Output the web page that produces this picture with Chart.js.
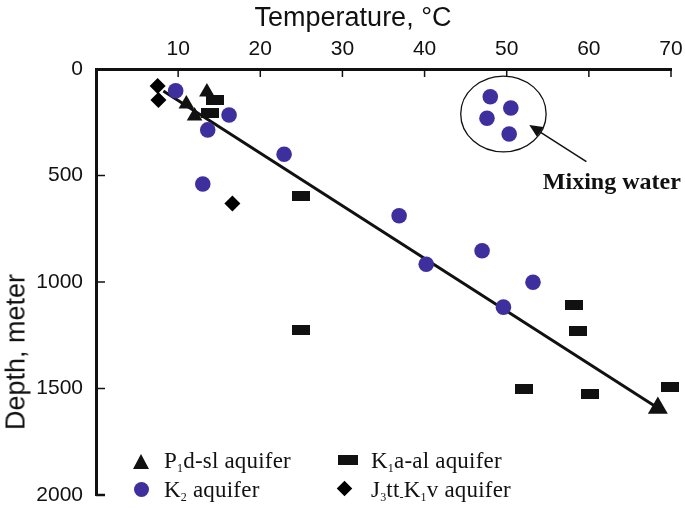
<!DOCTYPE html>
<html><head><meta charset="utf-8">
<script src="https://cdn.jsdelivr.net/npm/chart.js@4/dist/chart.umd.min.js"></script>
<style>
html,body{margin:0;padding:0;background:#fff;}
#wrap{position:relative;width:685px;height:508px;overflow:hidden;}
#c{position:absolute;left:0;top:0;}
.ttl{position:absolute;font-family:"Liberation Sans",Arial,sans-serif;font-size:27px;color:#111;white-space:nowrap;line-height:1;}
.lg{position:absolute;font-family:"Liberation Serif","DejaVu Serif",serif;font-size:23px;letter-spacing:0.2px;color:#111;white-space:nowrap;line-height:1;}
.lg sub{font-size:12px;vertical-align:baseline;position:relative;top:4px;}
.mk{position:absolute;}
</style></head>
<body><div id="wrap">
<canvas id="c" width="685" height="508"></canvas>
<div class="ttl" style="left:353px;top:4px;transform:translateX(-50%);">Temperature, °C</div>
<div class="ttl" style="left:16px;top:352px;transform:translate(-50%,-50%) rotate(-90deg);">Depth, meter</div>
<div class="mk" style="left:133px;top:454px;width:0;height:0;border-left:8.5px solid transparent;border-right:8.5px solid transparent;border-bottom:15px solid #111;"></div>
<div class="lg" style="left:164px;top:449px;">P<sub>1</sub>d-sl aquifer</div>
<div class="mk" style="left:134px;top:482px;width:15px;height:15px;border-radius:50%;background:#3e2f9e;"></div>
<div class="lg" style="left:164px;top:478px;">K<sub>2</sub> aquifer</div>
<div class="mk" style="left:338px;top:455px;width:20px;height:10px;background:#111;"></div>
<div class="lg" style="left:371px;top:449px;">K<sub>1</sub>a-al aquifer</div>
<div class="mk" style="left:339px;top:483px;width:11px;height:11px;background:#000;transform:rotate(45deg);"></div>
<div class="lg" style="left:371px;top:478px;">J<sub>3</sub>tt<sub>-</sub>K<sub>1</sub>v aquifer</div>
</div>
<script>
// ---- data ----
const tempTicks = [0, 10, 20, 30, 40, 50, 60, 70];
const depthTicks = [0, 500, 1000, 1500, 2000];

const p1dslTemp  = [13.5, 11.0, 12.0, 68.4];
const p1dslDepth = [108, 164, 221, 1592];

const k2Temp  = [9.7, 16.2, 13.6, 22.9, 13.0, 36.9, 47.0, 40.2, 49.6, 53.2, 48.0, 50.5, 47.6, 50.3];
const k2Depth = [102, 216, 286, 400, 540, 689, 853, 917, 1118, 1001, 130, 183, 231, 305];

const k1aalTemp  = [14.5, 13.9, 25.0, 24.9, 58.2, 58.7, 52.1, 60.1, 69.9];
const k1aalDepth = [146, 208, 595, 1227, 1110, 1232, 1504, 1526, 1493];

const j3Temp  = [7.5, 7.6, 16.6];
const j3Depth = [80, 145, 631];

const trendTemp  = [8.2, 68.4];
const trendDepth = [103, 1592];

// mixing-water annotation (data units)
const mixCenter = [49.6, 211];
const mixRadius = [5.2, 178];
const mixArrowFrom = [59.7, 435];
const mixArrowTo = [52.75, 263];
const mixLabelAt = [62.8, 535];
const mixLabel = 'Mixing water';

// ---- build ----
const pts = (xs, ys) => xs.map((v, i) => ({x: v, y: ys[i]}));

const rectImg = document.createElement('canvas');
rectImg.width = 18; rectImg.height = 10;
(function(){const g = rectImg.getContext('2d'); g.fillStyle = '#111'; g.fillRect(0,0,18,10);})();

const inwardTicks = {
  id: 'inwardTicks',
  afterDraw(chart) {
    const {ctx, chartArea: a, scales: {x, y}} = chart;
    ctx.save();
    ctx.strokeStyle = '#111';
    ctx.lineWidth = 1.5;
    tempTicks.filter(v => v > 0).forEach(v => {
      const px = x.getPixelForValue(v);
      ctx.beginPath(); ctx.moveTo(px, a.top); ctx.lineTo(px, a.top + 8); ctx.stroke();
    });
    depthTicks.filter(v => v > 0).forEach(v => {
      const py = y.getPixelForValue(v);
      ctx.lineWidth = v === 2000 ? 2.5 : 1.5;
      ctx.beginPath(); ctx.moveTo(a.left, py); ctx.lineTo(a.left + 9, py); ctx.stroke();
    });
    ctx.restore();
  }
};

const mixing = {
  id: 'mixing',
  afterDatasetsDraw(chart) {
    const {ctx, scales: {x, y}} = chart;
    ctx.save();
    const cx = x.getPixelForValue(mixCenter[0]);
    const cy = y.getPixelForValue(mixCenter[1]);
    const rx = Math.abs(x.getPixelForValue(mixCenter[0] + mixRadius[0]) - cx);
    const ry = Math.abs(y.getPixelForValue(mixCenter[1] + mixRadius[1]) - cy);
    ctx.strokeStyle = '#111';
    ctx.lineWidth = 1.3;
    ctx.beginPath(); ctx.ellipse(cx, cy, rx, ry, 0, 0, Math.PI * 2); ctx.stroke();
    const x1 = x.getPixelForValue(mixArrowFrom[0]), y1 = y.getPixelForValue(mixArrowFrom[1]);
    const x2 = x.getPixelForValue(mixArrowTo[0]), y2 = y.getPixelForValue(mixArrowTo[1]);
    const ang = Math.atan2(y2 - y1, x2 - x1);
    const hl = 13, hw = 6;
    const bx = x2 - hl * Math.cos(ang), by = y2 - hl * Math.sin(ang);
    ctx.lineWidth = 1.5;
    ctx.beginPath(); ctx.moveTo(x1, y1); ctx.lineTo(bx, by); ctx.stroke();
    ctx.fillStyle = '#111';
    ctx.beginPath();
    ctx.moveTo(x2, y2);
    ctx.lineTo(bx + hw * Math.sin(ang), by - hw * Math.cos(ang));
    ctx.lineTo(bx - hw * Math.sin(ang), by + hw * Math.cos(ang));
    ctx.closePath(); ctx.fill();
    ctx.font = 'bold 24px "Liberation Serif", "DejaVu Serif", serif';
    ctx.textAlign = 'center'; ctx.textBaseline = 'middle';
    ctx.fillText(mixLabel, x.getPixelForValue(mixLabelAt[0]), y.getPixelForValue(mixLabelAt[1]));
    ctx.restore();
  }
};

new Chart(document.getElementById('c'), {
  type: 'scatter',
  data: {
    datasets: [
      {label: 'trend', data: pts(trendTemp, trendDepth), showLine: true, borderColor: '#111', borderWidth: 3, pointRadius: 0, order: 10, clip: false},
      {label: 'P1d-sl aquifer', data: pts(p1dslTemp, p1dslDepth), pointStyle: 'triangle', pointRadius: [9, 9, 9, 11.5], backgroundColor: '#111', borderWidth: 0, order: 1, clip: false},
      {label: 'K2 aquifer', data: pts(k2Temp, k2Depth), pointStyle: 'circle', pointRadius: 7.8, backgroundColor: '#3e2f9e', borderWidth: 0, order: 1, clip: false},
      {label: 'K1a-al aquifer', data: pts(k1aalTemp, k1aalDepth), pointStyle: rectImg, pointRadius: 8, backgroundColor: '#111', borderWidth: 0, order: 1, clip: false},
      {label: 'J3tt-K1v aquifer', data: pts(j3Temp, j3Depth), pointStyle: 'rectRot', pointRadius: 8, backgroundColor: '#000', borderWidth: 0, order: 1, clip: false}
    ]
  },
  options: {
    responsive: false,
    animation: false,
    devicePixelRatio: 1,
    layout: {padding: {left: 0, top: 0, right: 14, bottom: 13}},
    plugins: {legend: {display: false}, tooltip: {enabled: false}},
    scales: {
      x: {
        type: 'linear', position: 'top', min: 0, max: 70,
        afterBuildTicks: s => { s.ticks = tempTicks.map(v => ({value: v})); },
        afterFit: s => { s.height = 69; s.paddingLeft = 0; s.paddingRight = 0; },
        grid: {display: false, drawTicks: false},
        border: {display: true, color: '#111', width: 3},
        ticks: {color: '#111', font: {family: '"Liberation Sans", Arial, sans-serif', size: 21}, padding: 7,
                callback: v => v === 0 ? '' : String(v), maxRotation: 0}
      },
      y: {
        type: 'linear', reverse: true, min: 0, max: 2000,
        afterBuildTicks: s => { s.ticks = depthTicks.map(v => ({value: v})); },
        afterFit: s => { s.width = 96; s.paddingTop = 0; s.paddingBottom = 0; },
        grid: {display: false, drawTicks: false},
        border: {display: true, color: '#111', width: 3},
        ticks: {color: '#111', font: {family: '"Liberation Sans", Arial, sans-serif', size: 21}, padding: 13,
                callback: v => String(v)}
      }
    }
  },
  plugins: [inwardTicks, mixing]
});
</script>
</body></html>
